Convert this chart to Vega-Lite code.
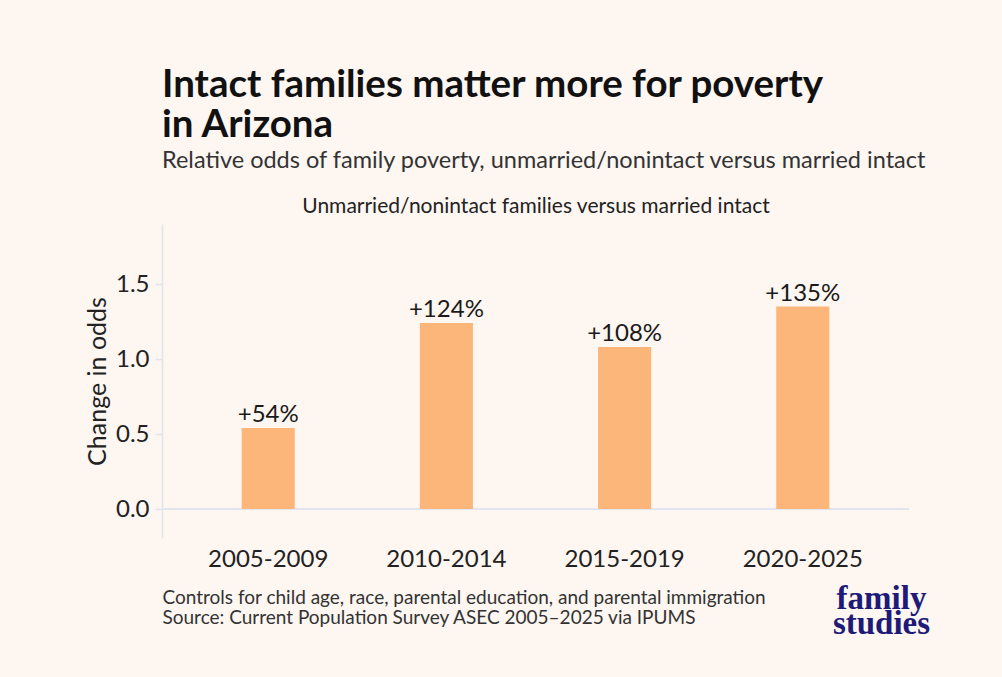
{
  "$schema": "https://vega.github.io/schema/vega-lite/v6.json",
  "width": 747,
  "height": 314,
  "autosize": {"type": "none"},
  "padding": {"left": 162, "top": 224, "right": 93, "bottom": 139},
  "background": "#fdf6f1",
  "config": {"view": {"stroke": null}, "font": "Lato"},
  "title": {
    "text": ["Intact families matter more for poverty", "in Arizona"],
    "subtitle": "Relative odds of family poverty, unmarried/nonintact versus married intact",
    "anchor": "start",
    "frame": "group",
    "font": "Lato",
    "fontSize": 38.5,
    "fontWeight": "bold",
    "color": "#111111",
    "lineHeight": 40,
    "subtitleFont": "Lato",
    "subtitleFontSize": 23.5,
    "subtitleColor": "#333333",
    "subtitlePadding": 3,
    "offset": 22
  },
  "data": {
    "values": [
      {"period": "2005-2009", "odds": 0.54, "label": "+54%"},
      {"period": "2010-2014", "odds": 1.24, "label": "+124%"},
      {"period": "2015-2019", "odds": 1.08, "label": "+108%"},
      {"period": "2020-2025", "odds": 1.35, "label": "+135%"}
    ]
  },
  "layer": [
    {
      "mark": {"type": "rule", "color": "#e4e4ee", "strokeWidth": 2},
      "encoding": {
        "y": {"datum": 0, "type": "quantitative", "axis": null}
      }
    },
    {
      "mark": {"type": "bar", "color": "#fdb67a"},
      "encoding": {
        "x": {
          "field": "period",
          "type": "nominal",
          "sort": null,
          "scale": {"type": "band", "paddingInner": 0.702, "paddingOuter": 0.447},
          "axis": {
            "orient": "bottom",
            "labelAngle": 0,
            "labelFont": "Lato",
            "labelFontSize": 24,
            "labelColor": "#222222",
            "labelPadding": 9,
            "ticks": false,
            "tickSize": 0,
            "domain": false,
            "grid": false,
            "title": ["Controls for child age, race, parental education, and parental immigration", "Source: Current Population Survey ASEC 2005\u20132025 via IPUMS"],
            "titleFont": "Lato",
            "titleFontSize": 19,
            "titleFontWeight": "normal",
            "titleColor": "#333333",
            "titleAnchor": "start",
            "titleAlign": "left",
            "titleBaseline": "alphabetic",
            "titleX": 0,
            "titleY": 65,
            "titleLineHeight": 20.5
          }
        },
        "y": {
          "field": "odds",
          "type": "quantitative",
          "scale": {"domain": [-0.193, 1.9], "nice": false, "zero": false},
          "axis": {
            "orient": "left",
            "values": [0, 0.5, 1, 1.5],
            "format": ".1f",
            "grid": false,
            "domainColor": "#e2e3ec",
            "domainWidth": 1.5,
            "tickColor": "#e2e3ec",
            "tickWidth": 1.5,
            "tickSize": 7,
            "labelFont": "Lato",
            "labelFontSize": 24,
            "labelColor": "#222222",
            "labelPadding": 6,
            "title": "Change in odds",
            "titleFont": "Lato",
            "titleFontSize": 25,
            "titleFontWeight": "normal",
            "titleColor": "#222222",
            "titlePadding": 5
          }
        }
      }
    },
    {
      "mark": {"type": "text", "baseline": "alphabetic", "dy": -6, "fontSize": 24, "font": "Lato", "color": "#1a1a1a"},
      "encoding": {
        "x": {
          "field": "period",
          "type": "nominal",
          "sort": null,
          "axis": {
            "orient": "top",
            "labels": false,
            "ticks": false,
            "domain": false,
            "grid": false,
            "title": "Unmarried/nonintact families versus married intact",
            "titleFont": "Lato",
            "titleFontSize": 21,
            "titleFontWeight": "normal",
            "titleColor": "#222222",
            "titleAnchor": "middle",
            "titleAlign": "center",
            "titleBaseline": "alphabetic",
            "titleX": 373.5,
            "titleY": -12
          }
        },
        "y": {
          "field": "odds",
          "type": "quantitative",
          "axis": {
            "orient": "right",
            "labels": false,
            "ticks": false,
            "domain": false,
            "grid": false,
            "title": ["family", "studies"],
            "titleAngle": 0,
            "titleX": -28,
            "titleY": 384,
            "titleAlign": "center",
            "titleBaseline": "alphabetic",
            "titleLineHeight": 25,
            "titleFont": "Liberation Serif",
            "titleFontSize": 33,
            "titleFontWeight": "bold",
            "titleColor": "#1e1a78"
          }
        },
        "text": {"field": "label", "type": "nominal"}
      }
    }
  ],
  "resolve": {"axis": {"x": "independent", "y": "independent"}}
}
